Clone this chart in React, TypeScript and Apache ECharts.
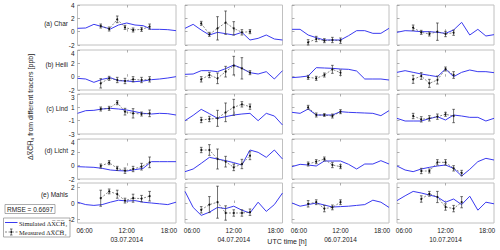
import React, { useEffect, useRef } from 'react';
import * as echarts from 'echarts';

const dates = ['03.07.2014', '04.07.2014', '06.07.2014', '10.07.2014'];
const stations = ['(a) Char', '(b) Heili', '(c) Lind', '(d) Licht', '(e) Mahls'];
const simTimes = [5, 6.17, 7.33, 8.5, 9.67, 10.83, 12, 13.17, 14.33, 15.5, 16.67, 17.83, 19];

const tCol1 = [8.3, 9.5, 10.65, 11.75, 12.9, 14.1, 15.25];
const tK2to8 = [7.33, 8.5, 9.67, 10.83, 12, 13.17, 14.33];
const tK2to6 = [7.33, 8.5, 9.67, 10.83, 12];
const tK2to7 = [7.33, 8.5, 9.67, 10.83, 12, 13.17];
const tK3to8 = [8.5, 9.67, 10.83, 12, 13.17, 14.33];

const measTimes = [
  [tCol1, tK2to8, tK2to6, tK2to7],
  [tCol1, tK2to8, tK2to6, tK2to7],
  [tCol1, tK2to8, tK2to6, tK2to7],
  [tCol1, tK2to8, tK2to6, tK3to8],
  [tCol1, tK2to8, tK2to6, tK3to8],
];

// simulated (blue) per row, per date
const simA = [
  [0.5, 0.55, 1.1, 0.75, 0.4, 1.0, 1.3, 1.0, 0.9, 0.35, 0.35, 0.3, 0.15],
  [0.5, 1.1, 0.25, -0.5, -0.1, -0.3, -0.5, -0.1, -1.25, -1.0, -0.5, -1.1, -1.25],
  [0.35, 0.35, -0.5, -0.9, -1.25, -1.25, -1.25, -0.6, 0.15, 0.15, -0.25, -0.25, 0.5],
  [-0.1, 0.15, 0.1, 0.0, 0.0, -0.1, -0.25, 0.25, 1.4, -0.5, 0.35, -0.65, -0.45],
];
const simB = [
  [-0.25, -0.35, -0.85, -0.4, -0.15, -0.6, -0.65, -0.75, -0.65, -0.45, -0.35, -0.2, 0],
  [0.35, 0.4, 0.9, 0.9, 0.75, 1.2, 1.75, 1.25, 0.6, 0.4, 0.75, -0.35, 0.9],
  [-0.15, -0.05, 0.1, 1.35, 1.3, 1.25, 1.15, 1.1, 0.85, -0.35, -0.35, -0.35, -0.5],
  [0.65, 0.9, 0.65, 0.4, 0.2, 0.0, 1.15, 0.0, 0.65, 1.0, 0.75, 0.75, 0.6],
];
const simC = [
  [0.1, 0.5, 0.55, 0.75, 0.85, 0.75, 0.6, 0.35, 0.1, 0.0, 0.1, 0.05, -0.15],
  [-1.0, -0.2, 0.7, 0.05, -0.65, -0.4, -0.15, 0.0, 0.1, -1.0, 0.1, -0.3, -1.65],
  [0.25, 0.1, 0.75, -0.15, -0.15, -0.15, 0.35, 0.25, 0.2, 0.15, 0.1, -0.25, 0.5],
  [-0.65, -1.05, -1.05, -1.05, -0.7, -0.4, -0.9, -0.15, -0.3, -0.5, -0.5, -1.05, -0.65],
];
const simD = [
  [-0.15, -0.2, -0.25, -0.4, -0.65, -0.75, -0.8, -0.6, -0.4, 0.6, 0.6, 0.6, 0.6],
  [-0.9, -0.5, 0.35, 1.25, 1.0, 0.75, 0.45, 0.1, 2.35, 2.0, 1.25, 2.35, 1.0],
  [-0.15, 0.2, 0.1, -0.05, 0.7, 0.7, 0.7, 0.2, -0.5, 0.25, 0.25, 0.75, 0.25],
  [-0.05, -0.65, -0.9, -0.5, -0.25, -0.05, 0.1, -0.4, -1.55, -0.55, 0.6, 1.1, 0.85],
];
const simE = [
  [0.1, -0.2, -0.3, -0.2, 0.1, 0.35, 0.25, 0.3, 0.1, 0.0, -0.1, -0.2, 0.1],
  [1.45, -0.55, -1.55, -1.15, -0.55, -0.7, -0.4, -0.9, -1.25, 0.1, -1.05, -0.2, 1.25],
  [0.0, -0.4, -0.2, 0.0, -0.25, -0.5, -0.45, -0.4, -0.3, -0.2, 0.35, 0.1, -0.55],
  [0.3, 0.9, 1.45, 1.25, 1.0, 0.75, 0.1, 0.5, -0.2, 0.85, -0.9, 0.1, -0.1],
];

// measured values and error bars
const measA = [[0.85, 0.4, 1.85, 0.65, 0.25, 0.35, 0.75], [1.25, -0.4, 0.5, 1.35, 0.5, -0.1, 0.0], [-1.6, -1.1, -1.35, -1.25, -1.35], [0.6, -0.1, -0.35, 0, -0.35, -0.15]];
const errA = [[0.3, 0.3, 0.5, 0.3, 0.3, 0.3, 0.4], [0.3, 0.3, 1.75, 1.75, 1.0, 0.4, 0.3], [0.4, 0.4, 0.3, 0.4, 0.4], [0.4, 0.3, 0.3, 1.3, 0.4, 0.4]];
const measB = [[-1.0, -0.25, -0.5, -0.65, -0.4, -0.5, -0.4], [-0.4, 0.25, -0.25, 0.75, 1.65, 1.25, 0.6], [-0.1, -0.25, 0.25, 1.1, 0.6], [-0.4, 0.1, -1.0, -0.5, 1.15, 0.25]];
const errB = [[0.7, 0.3, 0.4, 0.4, 0.4, 0.4, 0.4], [0.4, 0.4, 0.8, 0.8, 1.4, 1.6, 0.3], [0.3, 0.3, 0.3, 0.6, 0.4], [0.6, 0.5, 0.6, 0.6, 0.3, 0.5]];
const measC = [[0.75, 0.85, 1.7, 0.35, 0.1, 0, 0.1], [-0.9, -0.75, -0.65, 0.25, 1.0, 1.45, 1.1], [1.0, -0.15, -0.15, -0.3, 0.35], [-0.3, -0.8, -0.65, -0.4, -0.05, -0.3]];
const errC = [[0.3, 0.3, 0.3, 0.5, 0.7, 0.3, 0.5], [0.4, 0.4, 1.2, 1.4, 1.2, 0.4, 0.4], [0.3, 0.3, 0.2, 0.3, 0.3], [0.4, 0.4, 0.4, 0.4, 0.3, 1.0]];
const measD = [[-0.05, 0.45, -0.4, -0.75, -0.5, -0.15, 0.5], [2.35, 2.35, 1.0, 0.6, -0.25, 0.25, 1.5], [0.25, 0.6, 1.0, 0.1, -0.15], [-0.8, -0.8, 0.5, 0.5, -0.4, -1.1]];
const errD = [[0.3, 0.3, 0.3, 0.4, 0.4, 0.5, 0.8], [0.4, 0.8, 1.5, 0.8, 0.5, 0.7, 0.6], [0.3, 0.3, 0.3, 0.4, 0.3], [0.4, 0.3, 0.4, 0.4, 0.4, 0.4]];
const measE = [[0.6, 1.45, 1.1, 0.3, 0.6, 0.55, 0.85], [-0.85, -0.2, 0.1, -1.25, -1.25, -1.25, -1.15], [-0.1, 0.1, -0.7, -0.55, 0.1], [0.5, 1.15, 0.75, -0.5, -0.7, 0.1]];
const errE = [[1.0, 0.3, 0.5, 0.3, 0.5, 0.4, 0.6], [0.4, 1.0, 2.0, 0.9, 0.4, 0.4, 0.4], [0.4, 0.3, 0.4, 0.3, 0.3], [0.4, 0.3, 0.7, 0.4, 0.4, 0.7]];

const sims = [simA, simB, simC, simD, simE];
const meas = [measA, measB, measC, measD, measE];
const errs = [errA, errB, errC, errD, errE];

const yMins = [-2, -2, -3, -2, -2.5];
const yMaxs = [4, 4, 3, 4, 2.5];
const yTicks = [[-2, 0, 2, 4], [-2, 0, 2, 4], [-3, -1, 1, 3], [-2, 0, 2, 4], [-2, 0, 2]];
const xLabelTicks = [6, 12, 18];

const colLeft = [77.5, 185, 292, 397];
const colWidth = [98.5, 97.5, 97, 97];
const rowTop = [5, 50, 94, 139, 183];
const rowH = 40;
const labelY = [23, 64, 108, 150, 194];

const SANS = 'Liberation Sans, Arial, sans-serif';
const SERIF = 'Liberation Serif, DejaVu Serif, serif';
const XCH = 'ΔX\u0305C\u0305H\u0305\u2084';

export default function App() {
  const ref = useRef<HTMLDivElement>(null);
  useEffect(() => {
    if (!ref.current) return;
    const chart = echarts.init(ref.current, undefined, { renderer: 'svg' });
    const grids: any[] = [];
    const xAxes: any[] = [];
    const xTop: any[] = [];
    const yAxes: any[] = [];
    const series: any[] = [];
    for (let r = 0; r < 5; r++) {
      for (let c = 0; c < 4; c++) {
        const gi = r * 4 + c;
        grids.push({
          left: colLeft[c], top: rowTop[r], width: colWidth[c], height: rowH,
          show: true, borderColor: '#c0c0c0', borderWidth: 1, backgroundColor: '#fff',
        });
        const date = dates[c];
        xAxes.push({
          type: 'value', gridIndex: gi, min: 5, max: 19,
          axisLine: { show: false }, splitLine: { show: false },
          axisTick: { show: true, inside: true, length: 2.5, customValues: [12], lineStyle: { color: '#999', width: 0.8 } },
          axisLabel: {
            show: r === 4, customValues: xLabelTicks, fontSize: 6.5, fontFamily: SANS, color: '#222', margin: 3, lineHeight: 9,
            formatter: (v: number) => (v === 12 ? `12:00\n${date}` : `${v < 10 ? '0' : ''}${v}:00`),
          },
        });
        xTop.push({
          type: 'value', gridIndex: gi, min: 5, max: 19, position: 'top',
          axisLine: { show: false }, splitLine: { show: false },
          axisTick: { show: true, inside: true, length: 2.5, customValues: [12], lineStyle: { color: '#999', width: 0.8 } },
          axisLabel: { show: false },
        });
        const lbl: any = { show: c === 0, customValues: yTicks[r], fontSize: 6.5, fontFamily: SANS, color: '#222', margin: 3 };
        if (r >= 1 && r <= 3) lbl.verticalAlignMaxLabel = 'top';
        yAxes.push({
          type: 'value', gridIndex: gi, min: yMins[r], max: yMaxs[r],
          axisLine: { show: false }, splitLine: { show: false },
          axisTick: { show: true, inside: true, length: 2.5, customValues: yTicks[r], lineStyle: { color: '#999', width: 0.8 } },
          axisLabel: lbl,
        });
        const sim = sims[r][c];
        series.push({
          type: 'line', xAxisIndex: gi, yAxisIndex: gi, symbol: 'none',
          data: simTimes.map((t, k) => [t, sim[k]]),
          lineStyle: { color: '#3a3af0', width: 1 }, z: 3,
        });
        const mt = measTimes[r][c];
        const mv = meas[r][c];
        const me = errs[r][c];
        series.push({
          type: 'line', xAxisIndex: gi, yAxisIndex: gi, symbol: 'circle', symbolSize: 2,
          data: mt.map((t, k) => [t, mv[k]]),
          itemStyle: { color: '#111' },
          lineStyle: { color: '#555', width: 0.7, type: [2, 1.5] }, z: 4,
        });
        series.push({
          type: 'custom', xAxisIndex: gi, yAxisIndex: gi, z: 4,
          data: mt.map((t, k) => [t, mv[k], me[k]]),
          encode: { x: 0, y: 1 },
          renderItem: (params: any, api: any) => {
            const x = api.value(0), y = api.value(1), e = api.value(2);
            const lo = api.coord([x, y - e]);
            const hi = api.coord([x, y + e]);
            const w = 1.3;
            const st = { stroke: '#333', lineWidth: 0.7 };
            return {
              type: 'group',
              children: [
                { type: 'line', shape: { x1: lo[0], y1: lo[1], x2: hi[0], y2: hi[1] }, style: st },
                { type: 'line', shape: { x1: lo[0] - w, y1: lo[1], x2: lo[0] + w, y2: lo[1] }, style: st },
                { type: 'line', shape: { x1: hi[0] - w, y1: hi[1], x2: hi[0] + w, y2: hi[1] }, style: st },
              ],
            };
          },
        });
      }
    }
    const graphics: any[] = [];
    stations.forEach((s, i) => {
      graphics.push({ type: 'text', x: 68, y: labelY[i], style: { text: s, fontSize: 6.5, fontFamily: SANS, fill: '#222', align: 'right', verticalAlign: 'middle' } });
    });
    graphics.push({ type: 'text', x: 30, y: 107, rotation: Math.PI / 2, style: { text: `${XCH} from different tracers [ppb]`, fontSize: 7, fontFamily: SANS, fill: '#222', align: 'center', verticalAlign: 'middle' } });
    graphics.push({ type: 'text', x: 287, y: 241.5, style: { text: 'UTC time [h]', fontSize: 7, fontFamily: SANS, fill: '#222', align: 'center', verticalAlign: 'middle' } });
    // RMSE box
    graphics.push({ type: 'rect', shape: { x: 5, y: 204.5, width: 50, height: 9 }, style: { fill: '#fff', stroke: '#888', lineWidth: 0.7 } });
    graphics.push({ type: 'text', x: 7, y: 209, style: { text: 'RMSE = 0.6697', fontSize: 6.5, fontFamily: SANS, fill: '#222', align: 'left', verticalAlign: 'middle' } });
    // legend
    graphics.push({ type: 'rect', shape: { x: 3.5, y: 218, width: 66.5, height: 19 }, style: { fill: '#fff', stroke: '#888', lineWidth: 0.7 } });
    graphics.push({ type: 'line', shape: { x1: 5, y1: 222.5, x2: 17.5, y2: 222.5 }, style: { stroke: '#3a3af0', lineWidth: 1 } });
    graphics.push({ type: 'text', x: 19, y: 223, style: { text: `Simulated ${XCH}`, fontSize: 6.5, fontFamily: SERIF, fill: '#222', align: 'left', verticalAlign: 'middle' } });
    graphics.push({ type: 'line', shape: { x1: 5, y1: 232, x2: 17.5, y2: 232 }, style: { stroke: '#555', lineWidth: 0.7, lineDash: [2, 1.5] } });
    graphics.push({ type: 'line', shape: { x1: 11.25, y1: 229, x2: 11.25, y2: 235 }, style: { stroke: '#333', lineWidth: 0.7 } });
    graphics.push({ type: 'line', shape: { x1: 10, y1: 229, x2: 12.5, y2: 229 }, style: { stroke: '#333', lineWidth: 0.7 } });
    graphics.push({ type: 'line', shape: { x1: 10, y1: 235, x2: 12.5, y2: 235 }, style: { stroke: '#333', lineWidth: 0.7 } });
    graphics.push({ type: 'circle', shape: { cx: 11.25, cy: 232, r: 0.9 }, style: { fill: '#111' } });
    graphics.push({ type: 'text', x: 19, y: 232.5, style: { text: `Measured ${XCH}`, fontSize: 6.5, fontFamily: SERIF, fill: '#222', align: 'left', verticalAlign: 'middle' } });

    chart.setOption({
      animation: false,
      backgroundColor: '#fff',
      grid: grids,
      xAxis: [...xAxes, ...xTop.map((a, i) => ({ ...a, gridIndex: i }))],
      yAxis: yAxes,
      series,
      graphic: graphics,
    });
    return () => chart.dispose();
  }, []);
  return <div ref={ref} style={{ position: 'absolute', left: 0, top: 0, width: 500, height: 250 }} />;
}
